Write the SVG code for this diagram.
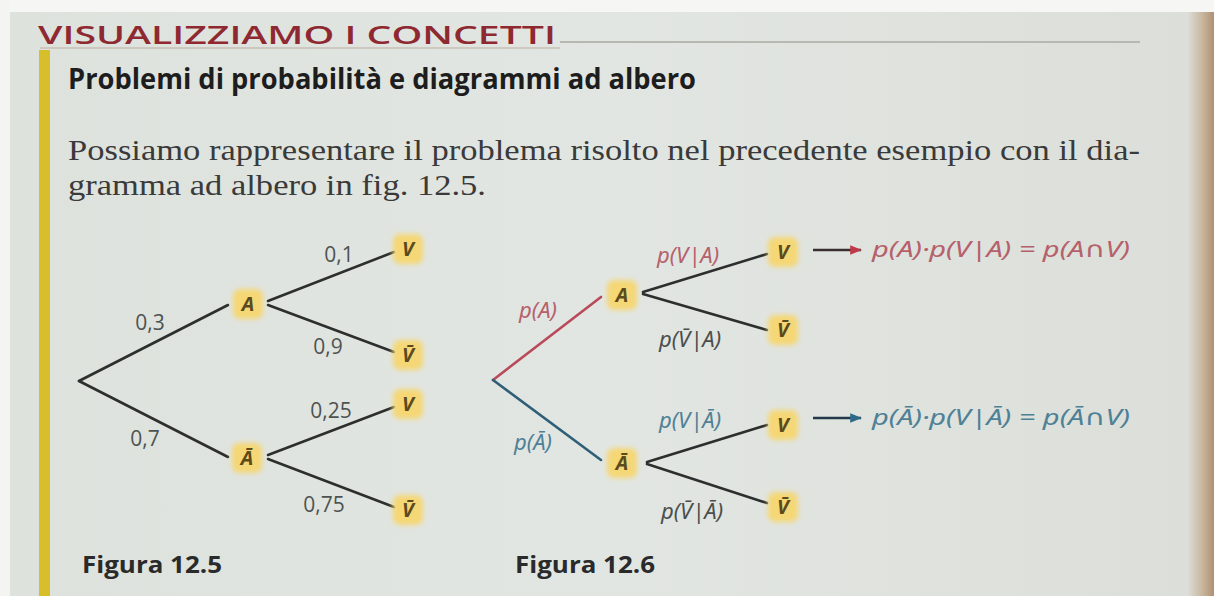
<svg xmlns="http://www.w3.org/2000/svg" width="1214" height="596" viewBox="0 0 1214 596">
  <defs>
    <linearGradient id="bg" x1="0" y1="0" x2="1" y2="0">
      <stop offset="0" stop-color="#dde2dd"/>
      <stop offset="0.5" stop-color="#e2e6e2"/>
      <stop offset="0.978" stop-color="#dcdfd9"/>
      <stop offset="0.99" stop-color="#c9b7a0"/>
      <stop offset="1" stop-color="#b09072"/>
    </linearGradient>
    <filter id="glow" x="-40%" y="-40%" width="180%" height="180%">
      <feGaussianBlur stdDeviation="2.4"/>
    </filter>
    <marker id="arrRed" viewBox="0 0 10 10" refX="9" refY="5" markerWidth="5" markerHeight="5" orient="auto" markerUnits="strokeWidth">
      <path d="M0,1 L10,5 L0,9 z" fill="#c0394a"/>
    </marker>
    <marker id="arrBlue" viewBox="0 0 10 10" refX="9" refY="5" markerWidth="5" markerHeight="5" orient="auto" markerUnits="strokeWidth">
      <path d="M0,1 L10,5 L0,9 z" fill="#2d6a8a"/>
    </marker>
  </defs>
  <style>
    .title { font-family: "Open Sans", "Liberation Sans", sans-serif; font-weight: 600; font-size: 26px; fill: #8f2931; }
    .head { font-family: "Open Sans", "Liberation Sans", sans-serif; font-weight: bold; font-size: 28px; fill: #1d1d1d; }
    .body { font-family: "Liberation Serif", "Noto Serif", serif; font-size: 29px; fill: #3a3a3a; }
    .cap { font-family: "Open Sans", "Liberation Sans", sans-serif; font-weight: bold; font-size: 23px; fill: #2a2a2a; }
    .num { font-family: "Open Sans", "Liberation Sans", sans-serif; font-size: 21px; fill: #4e5351; }
    .prob { font-family: "Noto Sans", "DejaVu Sans", sans-serif; font-style: italic; font-size: 22px; }
    .red { fill: #b5606b; }
    .blue { fill: #4e8096; }
    .grey { fill: #4a4f4d; }
    .glow { fill: #f5d774; filter: url(#glow); }
    .lbl { font-family: "Noto Sans", "DejaVu Sans", sans-serif; font-style: italic; font-weight: bold; font-size: 20px; fill: #5a4a1c; text-anchor: middle; }
    .edge { stroke: #2c2f2e; stroke-width: 2.6; fill: none; stroke-linecap: round; }
    .edgeRed { stroke: #b84a5a; stroke-width: 2.6; fill: none; stroke-linecap: round; }
    .edgeBlue { stroke: #2f5f78; stroke-width: 2.6; fill: none; stroke-linecap: round; }
  </style>

  <!-- page background -->
  <rect x="0" y="0" width="1214" height="596" fill="url(#bg)"/>
  <rect x="0" y="0" width="1214" height="12" fill="#f6f6f4"/>
  <rect x="0" y="0" width="10" height="596" fill="#f4f4f2"/>

  <!-- header -->
  <text class="title" x="38" y="44" textLength="518" lengthAdjust="spacingAndGlyphs">VISUALIZZIAMO I CONCETTI</text>
  <line x1="560" y1="42" x2="1140" y2="42" stroke="#b6b8b2" stroke-width="2"/>
  <line x1="40" y1="48" x2="560" y2="48" stroke="#c9beb6" stroke-width="1.5"/>
  <rect x="39" y="50" width="11" height="546" fill="#d6bf2a"/>

  <text class="head" x="68" y="89" textLength="628" lengthAdjust="spacingAndGlyphs">Problemi di probabilità e diagrammi ad albero</text>
  <text class="body" x="68" y="160" textLength="1072" lengthAdjust="spacingAndGlyphs">Possiamo rappresentare il problema risolto nel precedente esempio con il dia-</text>
  <text class="body" x="68" y="195" textLength="418" lengthAdjust="spacingAndGlyphs">gramma ad albero in fig. 12.5.</text>

  <!-- connectors -->
  <g id="connectors">
    <!-- figure 12.5 -->
    <line class="edge" x1="79" y1="381" x2="228" y2="305"/>
    <line class="edge" x1="79" y1="381" x2="228" y2="457"/>
    <line class="edge" x1="268" y1="301" x2="394" y2="252"/>
    <line class="edge" x1="268" y1="305" x2="394" y2="352"/>
    <line class="edge" x1="268" y1="455" x2="394" y2="407"/>
    <line class="edge" x1="268" y1="459" x2="394" y2="507"/>
    <!-- figure 12.6 -->
    <line class="edgeRed" x1="493" y1="380" x2="601" y2="297"/>
    <line class="edgeBlue" x1="493" y1="380" x2="601" y2="460"/>
    <line class="edge" x1="643" y1="292" x2="767" y2="254"/>
    <line class="edge" x1="643" y1="294" x2="767" y2="330"/>
    <line class="edge" x1="647" y1="462" x2="767" y2="425"/>
    <line class="edge" x1="647" y1="464" x2="767" y2="503"/>
    <!-- result arrows -->
    <line x1="813" y1="250" x2="861" y2="250" stroke="#3a2e30" stroke-width="2.4" marker-end="url(#arrRed)"/>
    <line x1="813" y1="418" x2="861" y2="418" stroke="#23394a" stroke-width="2.4" marker-end="url(#arrBlue)"/>
  </g>

  <!-- edge labels figure 12.5 -->
  <g id="labels125">
    <text class="num" x="339" y="262" text-anchor="middle">0,1</text>
    <text class="num" x="150" y="330" text-anchor="middle">0,3</text>
    <text class="num" x="328" y="354" text-anchor="middle">0,9</text>
    <text class="num" x="331" y="418" text-anchor="middle">0,25</text>
    <text class="num" x="145" y="446" text-anchor="middle">0,7</text>
    <text class="num" x="324" y="512" text-anchor="middle">0,75</text>
  </g>

  <!-- edge labels figure 12.6 -->
  <g id="labels126">
    <text class="prob red" x="688" y="263" text-anchor="middle">p(V|A)</text>
    <text class="prob red" x="538" y="318" text-anchor="middle">p(A)</text>
    <text class="prob grey" x="690" y="347" text-anchor="middle">p(V&#x304;|A)</text>
    <text class="prob blue" x="690" y="428" text-anchor="middle">p(V|&#x100;)</text>
    <text class="prob blue" x="533" y="450" text-anchor="middle">p(&#x100;)</text>
    <text class="prob grey" x="692" y="519" text-anchor="middle">p(V&#x304;|&#x100;)</text>
    <text class="prob red" x="872" y="257" font-size="20" textLength="258" lengthAdjust="spacingAndGlyphs">p(A)·p(V|A) = p(A∩V)</text>
    <text class="prob blue" x="872" y="425" font-size="20" textLength="258" lengthAdjust="spacingAndGlyphs">p(&#x100;)·p(V|&#x100;) = p(&#x100;∩V)</text>
  </g>

  <!-- nodes figure 12.5 -->
  <g id="n125-A"><rect class="glow" x="233" y="289" width="30" height="30" rx="7"/><text class="lbl" x="248" y="311">A</text></g>
  <g id="n125-AV"><rect class="glow" x="393" y="234" width="30" height="30" rx="7"/><text class="lbl" x="408" y="256">V</text></g>
  <g id="n125-AnV"><rect class="glow" x="393" y="340" width="30" height="30" rx="7"/><text class="lbl" x="408" y="362">V&#x304;</text></g>
  <g id="n125-nA"><rect class="glow" x="232" y="443" width="30" height="30" rx="7"/><text class="lbl" x="247" y="465">&#x100;</text></g>
  <g id="n125-nAV"><rect class="glow" x="393" y="389" width="30" height="30" rx="7"/><text class="lbl" x="408" y="411">V</text></g>
  <g id="n125-nAnV"><rect class="glow" x="393" y="495" width="30" height="30" rx="7"/><text class="lbl" x="408" y="517">V&#x304;</text></g>

  <!-- nodes figure 12.6 -->
  <g id="n126-A"><rect class="glow" x="607" y="280" width="30" height="30" rx="7"/><text class="lbl" x="622" y="302">A</text></g>
  <g id="n126-AV"><rect class="glow" x="768" y="237" width="30" height="30" rx="7"/><text class="lbl" x="783" y="259">V</text></g>
  <g id="n126-AnV"><rect class="glow" x="768" y="315" width="30" height="30" rx="7"/><text class="lbl" x="783" y="337">V&#x304;</text></g>
  <g id="n126-nA"><rect class="glow" x="607" y="448" width="30" height="30" rx="7"/><text class="lbl" x="622" y="470">&#x100;</text></g>
  <g id="n126-nAV"><rect class="glow" x="768" y="410" width="30" height="30" rx="7"/><text class="lbl" x="783" y="432">V</text></g>
  <g id="n126-nAnV"><rect class="glow" x="768" y="492" width="30" height="30" rx="7"/><text class="lbl" x="783" y="514">V&#x304;</text></g>

  <!-- captions -->
  <text class="cap" x="82" y="573" textLength="140" lengthAdjust="spacingAndGlyphs">Figura 12.5</text>
  <text class="cap" x="515" y="573" textLength="140" lengthAdjust="spacingAndGlyphs">Figura 12.6</text>
</svg>
